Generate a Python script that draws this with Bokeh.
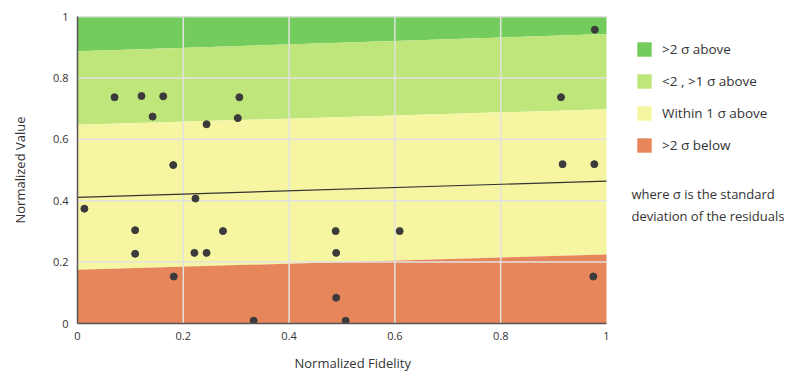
from bokeh.plotting import figure
from bokeh.models import FixedTicker, Legend, LegendItem, Label, Range1d, Title
from bokeh.embed import file_html
from bokeh.resources import INLINE

# ---- data ----
fidelity = [0.013, 0.070, 0.109, 0.109, 0.121, 0.142, 0.162, 0.181, 0.182,
            0.221, 0.223, 0.244, 0.244, 0.275, 0.303, 0.306, 0.333, 0.488,
            0.489, 0.489, 0.507, 0.609, 0.914, 0.917, 0.975, 0.977, 0.978]
value = [0.374, 0.737, 0.304, 0.227, 0.741, 0.674, 0.740, 0.516, 0.153,
         0.230, 0.407, 0.649, 0.230, 0.301, 0.669, 0.737, 0.009, 0.301,
         0.230, 0.084, 0.009, 0.301, 0.737, 0.519, 0.153, 0.519, 0.957]

band_x = [0, 1]
fit_line = [0.411, 0.464]
plus_2sigma = [0.887, 0.943]
plus_1sigma = [0.647, 0.698]
minus_1sigma = [0.175, 0.225]
top_edge = [1, 1]
bottom_edge = [0, 0]

ticks = [0, 0.2, 0.4, 0.6, 0.8, 1]
tick_labels = ["0", "0.2", "0.4", "0.6", "0.8", "1"]

legend_labels = [">2 \u03c3 above", "<2 , >1 \u03c3 above", "Within 1 \u03c3 above", ">2 \u03c3 below"]
band_colors = ["#74cc5c", "#bee67a", "#f6f6a2", "#e6865a"]
note_lines = ["where \u03c3 is the standard", "deviation of the residuals"]

FONT = "Open Sans"

# data area (0..1) is 529 px wide; the frame continues to the right to host the legend
p = figure(frame_width=713, frame_height=307,
           min_border_left=77, min_border_right=0, min_border_top=16, min_border_bottom=40,
           x_range=Range1d(0, 713 / 529), y_range=Range1d(0, 1),
           output_backend="svg", toolbar_location=None)

r_top = p.varea(x=band_x, y1=plus_2sigma, y2=top_edge, fill_color=band_colors[0])
r_p2 = p.varea(x=band_x, y1=plus_1sigma, y2=plus_2sigma, fill_color=band_colors[1])
r_p1 = p.varea(x=band_x, y1=minus_1sigma, y2=plus_1sigma, fill_color=band_colors[2])
r_low = p.varea(x=band_x, y1=bottom_edge, y2=minus_1sigma, fill_color=band_colors[3])

# grid lines over the bands, limited to the data area
inner = ticks[1:-1]
p.segment(x0=inner, x1=inner, y0=[ticks[0]] * len(inner), y1=[ticks[-1]] * len(inner),
          line_color="#e2e2e2", line_width=1.5)
p.segment(x0=[ticks[0]] * len(inner), x1=[ticks[-1]] * len(inner), y0=inner, y1=inner,
          line_color="#e2e2e2", line_width=1.5)
p.segment(x0=[ticks[0]], x1=[ticks[-1]], y0=[ticks[-1]], y1=[ticks[-1]],
          line_color="#d8d8d8", line_width=2)
p.xgrid.visible = False
p.ygrid.visible = False

p.line(x=band_x, y=fit_line, line_color="#333333", line_width=1.2)
p.scatter(x=fidelity, y=value, size=7, fill_color="#3b3b3b", line_color="#3b3b3b")

overrides = {t: l for t, l in zip(ticks, tick_labels)}
for ax in (p.xaxis[0], p.yaxis[0]):
    ax.ticker = FixedTicker(ticks=ticks)
    ax.major_label_overrides = overrides
    ax.major_tick_line_color = None
    ax.minor_tick_line_color = None
    ax.major_label_text_font = FONT
    ax.major_label_text_font_size = "11px"
    ax.major_label_text_color = "#333333"
    ax.axis_label_text_font = FONT
    ax.axis_label_text_font_size = "13px"
    ax.axis_label_text_font_style = "normal"
    ax.axis_label_text_color = "#333333"
    ax.axis_line_color = "#555555"
    ax.axis_line_width = 1.5

p.xaxis.bounds = (0, 1)
p.yaxis.axis_label = "Normalized Value"
p.xaxis.major_label_standoff = 2
p.yaxis.major_label_standoff = 3
p.yaxis.axis_label_standoff = 21

# x axis title, positioned over the data area rather than the whole frame
p.add_layout(Title(text="Normalized Fidelity", align="left", offset=217, standoff=18,
                   text_font=FONT, text_font_size="13px", text_font_style="normal",
                   text_color="#333333"), "below")

p.outline_line_color = None
p.background_fill_color = "white"
p.border_fill_color = "white"

items = [LegendItem(label=lab, renderers=[r]) for lab, r in
         zip(legend_labels, [r_top, r_p2, r_p1, r_low])]
legend = Legend(items=items, location=(558, 169),
                glyph_width=18, glyph_height=18, label_height=18,
                spacing=14, padding=0, margin=0, label_standoff=9,
                label_text_font=FONT, label_text_font_size="13.5px",
                label_text_color="#333333",
                border_line_color=None, background_fill_alpha=0)
p.add_layout(legend, "center")

for i, line in enumerate(note_lines):
    p.add_layout(Label(x=554, y=130 - 22 * i, x_units="screen", y_units="screen",
                       text=line, text_font=FONT, text_font_size="13px",
                       text_color="#333333", text_baseline="middle"))

open("out.html", "w").write(file_html(p, INLINE))
